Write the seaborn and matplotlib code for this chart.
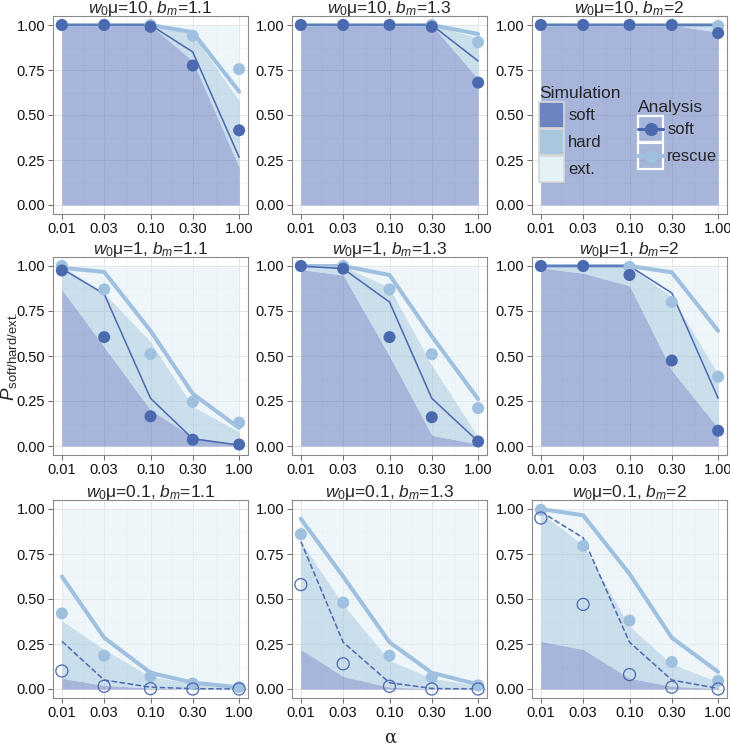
import matplotlib
matplotlib.use("Agg")
import matplotlib.pyplot as plt
from matplotlib.legend_handler import HandlerBase
from matplotlib.lines import Line2D
from matplotlib.patches import Patch, Rectangle
import numpy as np
import pandas as pd
import seaborn as sns

# --- data (rows: w0mu = 10, 1, 0.1 ; cols: b_m = 1.1, 1.3, 2) ---
alpha_vals = [0.01, 0.03, 0.1, 0.3, 1.0]
x_ticklabels = ["0.01", "0.03", "0.10", "0.30", "1.00"]
y_ticks = [0.0, 0.25, 0.5, 0.75, 1.0]
y_ticklabels = ["0.00", "0.25", "0.50", "0.75", "1.00"]
w0mu_labels = ["10", "1", "0.1"]
bm_labels = ["1.1", "1.3", "2"]

# simulation: upper edge of "soft" band and of "soft+hard" band
sim_soft_top = [
    [[1, 1, 1, 0.80, 0.21], [1, 1, 1, 1, 0.70], [1, 1, 1, 1, 0.96]],
    [[0.87, 0.55, 0.20, 0.05, 0.01], [0.98, 0.95, 0.50, 0.06, 0.01], [0.99, 0.96, 0.89, 0.42, 0.10]],
    [[0.06, 0.02, 0.005, 0, 0], [0.22, 0.07, 0.01, 0.002, 0], [0.265, 0.22, 0.06, 0.015, 0.003]],
]
sim_hard_top = [
    [[1, 1, 1, 0.95, 0.58], [1, 1, 1, 1, 0.93], [1, 1, 1, 1, 0.99]],
    [[1.0, 0.85, 0.58, 0.22, 0.08], [1, 1, 0.88, 0.45, 0.05], [1, 1, 1, 0.83, 0.40]],
    [[0.38, 0.22, 0.07, 0.03, 0.01], [0.82, 0.47, 0.16, 0.06, 0.02], [0.98, 0.80, 0.35, 0.14, 0.04]],
]
# analysis curves
ana_soft = [
    [[1, 1, 1, 0.85, 0.265], [1, 1, 1, 1, 0.80], [1, 1, 1, 1, 1]],
    [[0.985, 0.845, 0.265, 0.04, 0.005], [1, 0.985, 0.80, 0.265, 0.025], [1, 1, 1, 0.85, 0.265]],
    [[0.265, 0.05, 0.01, 0.002, 0], [0.82, 0.26, 0.035, 0.003, 0], [0.985, 0.84, 0.26, 0.05, 0.003]],
]
ana_rescue = [
    [[1, 1, 1, 0.96, 0.63], [1, 1, 1, 1, 0.95], [1, 1, 1, 1, 1]],
    [[0.99, 0.967, 0.64, 0.29, 0.10], [1, 1, 0.95, 0.61, 0.26], [1, 1, 1, 0.965, 0.64]],
    [[0.625, 0.285, 0.09, 0.035, 0.01], [0.945, 0.625, 0.26, 0.09, 0.025], [1.0, 0.965, 0.64, 0.285, 0.095]],
]
# simulated points
pts_soft = [
    [[1, 1, 0.99, 0.775, 0.415], [1, 1, 1, 0.99, 0.68], [1, 1, 1, 1, 0.955]],
    [[0.975, 0.605, 0.165, 0.035, 0.008], [1, 0.985, 0.605, 0.16, 0.025], [1, 1, 0.95, 0.475, 0.085]],
    [[0.10, 0.015, 0.002, 0, 0], [0.58, 0.14, 0.015, 0, 0], [0.95, 0.47, 0.08, 0.01, 0]],
]
pts_rescue = [
    [[1, 1, 1, 0.94, 0.755], [1, 1, 1, 1, 0.905], [1, 1, 1, 1, 0.995]],
    [[1.0, 0.87, 0.51, 0.245, 0.13], [1, 1, 0.87, 0.51, 0.21], [1, 1, 0.995, 0.80, 0.385]],
    [[0.42, 0.185, 0.07, 0.03, 0.01], [0.86, 0.48, 0.185, 0.065, 0.02], [0.995, 0.795, 0.38, 0.15, 0.045]],
]

# --- style ---
sns.set_style("white")
plt.rcParams["font.family"] = ["Liberation Sans", "DejaVu Sans"]
plt.rcParams["mathtext.fontset"] = "custom"
plt.rcParams["mathtext.rm"] = "Liberation Sans"
plt.rcParams["mathtext.it"] = "Liberation Sans:italic"

C_SOFT_FILL = "#6B85C0"
C_HARD_FILL = "#A8C8E0"
C_EXT_FILL = "#E4F1F7"
FILL_ALPHA = 0.6
C_SOFT = "#4B69AF"
C_RESCUE = "#9FC1DF"


class BoxedLineHandler(HandlerBase):
    """ggplot-like legend key: white-bordered box with a line and a point."""

    def create_artists(self, legend, orig_handle, xdescent, ydescent, width, height,
                       fontsize, trans):
        x0, y0 = -xdescent, -ydescent
        ym = y0 + height / 2
        box = Rectangle((x0, y0), width, height, fc="none", ec="white", lw=1.6,
                        transform=trans)
        line = Line2D([x0, x0 + width], [ym, ym], color=orig_handle.get_color(),
                      lw=orig_handle.get_linewidth(), transform=trans)
        dot = Line2D([x0 + width / 2], [ym], ls="none", marker="o", markersize=8.5,
                     color=orig_handle.get_color(), transform=trans)
        return [box, line, dot]


W, H = 730, 748
fig = plt.figure(figsize=(W / 100, H / 100), dpi=100)

lefts = [53, 292, 532]
tops = [16, 257, 500]
pw, ph = 195, 198

xmin, xmax = 10 ** -2.1, 10 ** 0.1
major_logs = np.log10(alpha_vals)
x_minor = 10 ** ((major_logs[:-1] + major_logs[1:]) / 2)
y_minor = [0.125, 0.375, 0.625, 0.875]

axes = []
for r in range(3):
    row_axes = []
    for c in range(3):
        ax = fig.add_axes([lefts[c] / W, 1 - (tops[r] + ph) / H, pw / W, ph / H])
        row_axes.append(ax)
        ax.set_xscale("log")
        ax.set_xlim(xmin, xmax)
        ax.set_ylim(-0.05, 1.05)

        soft = np.array(sim_soft_top[r][c], dtype=float)
        hard = np.array(sim_hard_top[r][c], dtype=float)
        ax.fill_between(alpha_vals, 0, soft, color=C_SOFT_FILL, alpha=FILL_ALPHA, lw=0, zorder=1)
        ax.fill_between(alpha_vals, soft, hard, color=C_HARD_FILL, alpha=FILL_ALPHA, lw=0, zorder=1)
        ax.fill_between(alpha_vals, hard, 1, color=C_EXT_FILL, alpha=FILL_ALPHA, lw=0, zorder=1)

        df = pd.DataFrame({
            "alpha": alpha_vals,
            "ana_soft": ana_soft[r][c],
            "ana_rescue": ana_rescue[r][c],
            "pts_soft": pts_soft[r][c],
            "pts_rescue": pts_rescue[r][c],
        })
        ls = "--" if r == 2 else "-"
        sns.lineplot(data=df, x="alpha", y="ana_rescue", ax=ax, color=C_RESCUE, lw=2.9, zorder=3)
        sns.lineplot(data=df, x="alpha", y="ana_soft", ax=ax, color=C_SOFT, lw=1.1, ls=ls, zorder=4)
        sns.scatterplot(data=df, x="alpha", y="pts_rescue", ax=ax, color=C_RESCUE, s=75,
                        edgecolor="none", zorder=5)
        if r == 2:
            sns.scatterplot(data=df, x="alpha", y="pts_soft", ax=ax, facecolor="none", s=75,
                            edgecolor=C_SOFT, linewidth=0.9, zorder=6)
        else:
            sns.scatterplot(data=df, x="alpha", y="pts_soft", ax=ax, color=C_SOFT, s=75,
                            edgecolor="none", zorder=6)

        ax.set_xticks(alpha_vals)
        ax.set_xticklabels(x_ticklabels)
        ax.set_xticks(x_minor, minor=True)
        ax.set_yticks(y_ticks)
        ax.set_yticklabels(y_ticklabels)
        ax.set_yticks(y_minor, minor=True)
        ax.grid(True, which="major", color="#E3E3E3", lw=0.7, zorder=0)
        ax.grid(True, which="minor", color="#F3F3F3", lw=0.5, zorder=0)
        ax.set_axisbelow(True)
        ax.tick_params(which="major", length=3.5, width=0.6, color="#555555",
                       labelsize=10.5, labelcolor="#111111", pad=2, direction="out",
                       bottom=True, left=True)
        ax.tick_params(which="minor", length=0)
        for sp in ax.spines.values():
            sp.set_color("#8A8A8A")
            sp.set_linewidth(0.8)
        ax.set_xlabel("")
        ax.set_ylabel("")
        ax.set_title(r"$w_0$μ=" + w0mu_labels[r] + r", $b_m$=" + bm_labels[c],
                     fontsize=12.5, pad=2)
    axes.append(row_axes)

fig.text(390 / W, 1 - 738 / H, "α", ha="center", va="center", fontsize=13,
         family=["DejaVu Serif"])
fig.text(9 / W, 1 - 356 / H, r"$P_{\mathrm{soft/hard/ext.}}$", ha="center", va="center",
         rotation=90, fontsize=13.5)

# legends inside the top-right panel
sim_handles = [Patch(facecolor=C_SOFT_FILL, edgecolor="#D8D8D8", lw=1.2),
               Patch(facecolor=C_HARD_FILL, edgecolor="#D8D8D8", lw=1.2),
               Patch(facecolor=C_EXT_FILL, edgecolor="#D8D8D8", lw=1.2)]
leg1 = axes[0][2].legend(sim_handles, ["soft", "hard", "ext."], title="Simulation",
                         loc="upper left", bbox_to_anchor=(539 / W, 1 - 86 / H),
                         bbox_transform=fig.transFigure, frameon=False, fontsize=12,
                         title_fontsize=12.5, handlelength=1.5, handleheight=2.05,
                         labelspacing=0.05, handletextpad=0.25, borderpad=0,
                         borderaxespad=0)
leg1._legend_box.align = "left"
axes[0][2].add_artist(leg1)

ana_handles = [Line2D([], [], color=C_SOFT, lw=2.2),
               Line2D([], [], color=C_RESCUE, lw=3.0)]
leg2 = axes[0][2].legend(ana_handles, ["soft", "rescue"], title="Analysis",
                         loc="upper left", bbox_to_anchor=(638 / W, 1 - 100 / H),
                         bbox_transform=fig.transFigure, frameon=False, fontsize=12,
                         title_fontsize=12.5, handlelength=1.5, handleheight=2.05,
                         labelspacing=0.05, handletextpad=0.25, borderpad=0,
                         borderaxespad=0, handler_map={Line2D: BoxedLineHandler()})
leg2._legend_box.align = "left"

fig.savefig("out.png", dpi=100)
